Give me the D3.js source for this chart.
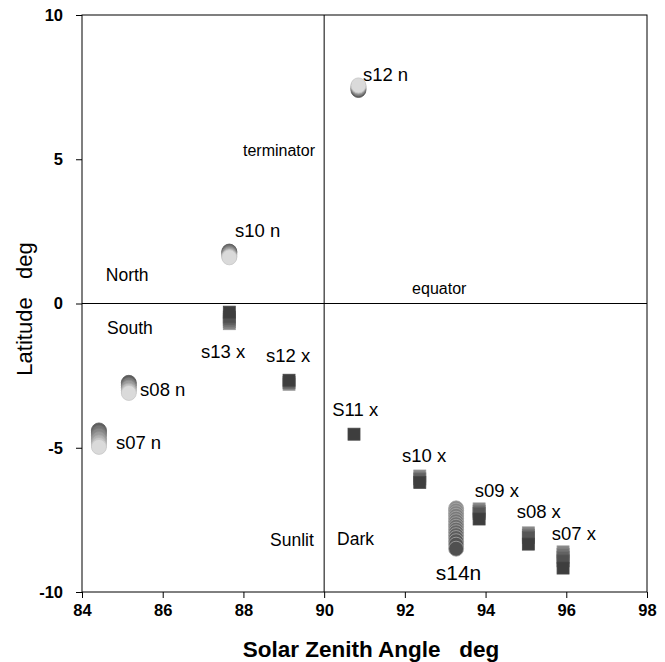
<!DOCTYPE html>
<html><head><meta charset="utf-8">
<script src="https://cdn.jsdelivr.net/npm/d3@7"></script>
<style>html,body{margin:0;padding:0;background:#fff;} text{font-family:"Liberation Sans",Arial,Helvetica,sans-serif;}</style>
</head><body>
<script>
// ---- data ----
const xTicks = [84, 86, 88, 90, 92, 94, 96, 98];
const yTicks = [-10, -5, 0, 5, 10];
const clusterNames = ["s12 n", "s10 n", "s08 n", "s07 n", "s14n", "s13 x", "s12 x", "S11 x", "s10 x", "s09 x", "s08 x", "s07 x"];
const clusterShape = ["circle", "circle", "circle", "circle", "circle", "square", "square", "square", "square", "square", "square", "square"];
const clusterSza = [90.85, 87.65, 85.16, 84.42, 93.27, 87.65, 89.13, 90.74, 92.37, 93.84, 95.06, 95.92];
// latitudes of the overlapping points, in drawing order
const latS12n = [7.40, 7.46, 7.52, 7.56];
const latS10n = [1.80, 1.76, 1.70, 1.64, 1.60];
const latS08n = [-2.75, -2.83, -2.92, -3.02, -3.10];
const latS07n = [-4.40, -4.48, -4.58, -4.70, -4.81, -4.90, -4.97];
const latS14n = [-7.10, -7.18, -7.27, -7.36, -7.46, -7.55, -7.65, -7.74, -7.84, -7.93, -8.03, -8.13, -8.24, -8.36, -8.50];
const latS13x = [-0.70, -0.63, -0.55, -0.47, -0.30];
const latS12x = [-2.80, -2.74, -2.66];
const latS11x = [-4.53];
const latS10x = [-5.98, -6.08, -6.20];
const latS09x = [-7.12, -7.20, -7.28, -7.47];
const latS08x = [-7.95, -8.03, -8.11, -8.34];
const latS07x = [-8.61, -8.70, -8.80, -8.92, -9.17];
const clusterLats = [latS12n, latS10n, latS08n, latS07n, latS14n, latS13x, latS12x, latS11x, latS10x, latS09x, latS08x, latS07x];
// label anchors (data units)
const labelSza = [90.96, 87.79, 85.44, 84.84, 93.33, 86.95, 88.56, 90.20, 91.93, 93.73, 94.77, 95.64];
const labelLat = [7.71, 2.30, -3.21, -5.04, -9.58, -1.89, -2.03, -3.90, -5.49, -6.69, -7.45, -8.20];
const noteTexts = ["terminator", "North", "South", "equator", "Sunlit", "Dark"];
const noteSza = [87.99, 84.59, 84.62, 92.18, 88.66, 90.32];
const noteLat = [5.11, 0.78, -1.06, 0.33, -8.40, -8.37];

// ---- layout ----
const W = 665, H = 662;
const m = {l: 82, r: 18, t: 15, b: 70};
const svg = d3.select("body").append("svg").attr("width", W).attr("height", H);
const x = d3.scaleLinear().domain([84, 98]).range([m.l, W - m.r]);
const y = d3.scaleLinear().domain([-10, 10]).range([H - m.b, m.t]);

// frame
svg.append("rect").attr("x", x(84)).attr("y", y(10)).attr("width", x(98) - x(84)).attr("height", y(-10) - y(10))
  .attr("fill", "none").attr("stroke", "#000").attr("stroke-width", 1);
// terminator & equator
svg.append("line").attr("x1", x(90)).attr("x2", x(90)).attr("y1", y(10)).attr("y2", y(-10)).attr("stroke", "#000");
svg.append("line").attr("x1", x(84)).attr("x2", x(98)).attr("y1", y(0)).attr("y2", y(0)).attr("stroke", "#000");

// axes
const xa = svg.append("g").attr("transform", `translate(0,${y(-10)})`)
  .call(d3.axisBottom(x).tickValues(xTicks).tickFormat(d => String(d)).tickSize(6).tickPadding(6));
const ya = svg.append("g").attr("transform", `translate(${x(84)},0)`)
  .call(d3.axisLeft(y).tickValues(yTicks).tickFormat(d => String(d)).tickSize(6).tickPadding(13));
[xa, ya].forEach(g => {
  g.select(".domain").remove();
  g.selectAll("line").attr("stroke", "#000");
  g.selectAll("text").attr("font-size", 16.5).attr("font-weight", "bold").attr("fill", "#000")
    .attr("font-family", "'Liberation Sans',Arial,sans-serif");
});

// markers
const shades = {
  circle: ["#5e5e5e", "#dadada"],
  s14n: ["#8a8a8a", "#505050"],
  square: ["#858585", "#3e3e3e"]
};
const R = 7.5, S = 12;
clusterNames.forEach((name, i) => {
  const lats = clusterLats[i];
  const shape = clusterShape[i];
  let sh = shape === "circle" ? shades.circle : shades.square;
  if (name === "s14n") sh = shades.s14n;
  const col = k => lats.length === 1 ? sh[1] : d3.interpolateRgb(sh[0], sh[1])(k / (lats.length - 1));
  const g = svg.append("g");
  lats.forEach((lat, k) => {
    const c = col(k);
    if (shape === "circle") {
      g.append("circle").attr("cx", x(clusterSza[i])).attr("cy", y(lat)).attr("r", R)
        .attr("fill", c).attr("stroke", name === "s14n" ? "#a8a8a8" : d3.color(c).darker(0.25)).attr("stroke-width", 0.8);
    } else {
      g.append("rect").attr("x", x(clusterSza[i]) - S / 2).attr("y", y(lat) - S / 2).attr("width", S).attr("height", S)
        .attr("fill", c).attr("stroke", d3.color(c).brighter(0.35)).attr("stroke-width", 0.8);
    }
  });
  svg.append("text").attr("x", x(labelSza[i])).attr("y", y(labelLat[i]))
    .attr("font-size", name === "s14n" ? 21 : 18.5).attr("fill", "#000")
    .attr("text-anchor", name === "s14n" ? "middle" : "start").text(name);
});

// notes
noteTexts.forEach((t, i) => {
  const small = (t === "terminator" || t === "equator");
  svg.append("text").attr("x", x(noteSza[i])).attr("y", y(noteLat[i]))
    .attr("font-size", small ? 16 : 17.5).attr("fill", "#000").text(t);
});

// axis titles
svg.append("text").attr("x", 371).attr("y", 657).attr("text-anchor", "middle")
  .attr("font-size", 22.5).attr("font-weight", "bold").style("white-space", "pre").text("Solar Zenith Angle   deg");
svg.append("text").attr("transform", `translate(32,309) rotate(-90)`).attr("text-anchor", "middle")
  .attr("font-size", 22).style("white-space", "pre").text("Latitude   deg");
</script>
</body></html>
